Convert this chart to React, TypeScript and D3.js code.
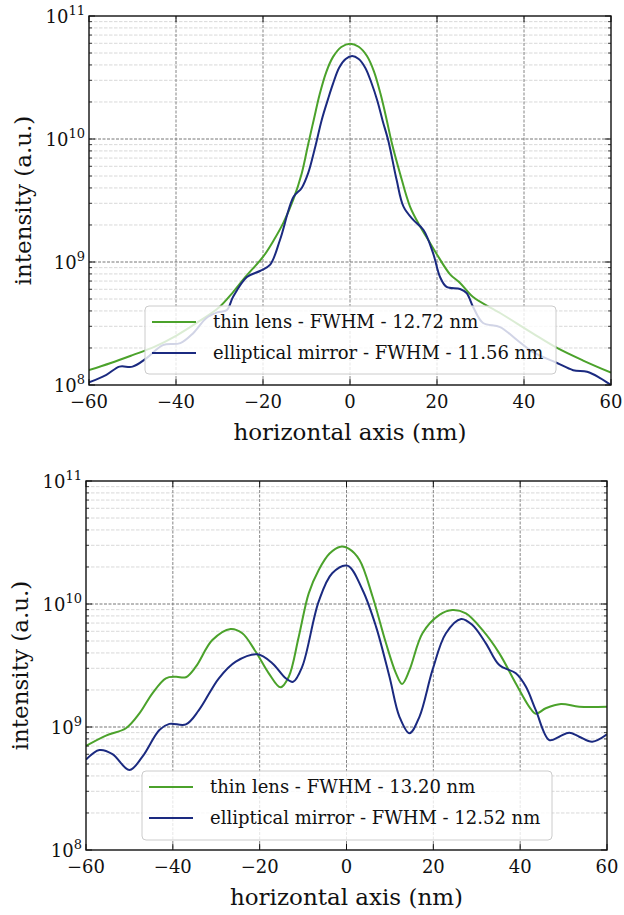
import React from "react";
import * as d3 from "d3";

const W = 624;
const H = 915;
const FONT = "DejaVu Serif";
const GREEN = "#4ba22b";
const BLUE = "#1b2a80";

const xTicks = [-60, -40, -20, 0, 20, 40, 60];
const decades = [8, 9, 10, 11];

// top panel
const topThinX = [-60, -55, -50, -45, -40, -35, -30, -27, -24, -20, -17.5, -15.3, -13, -11.1, -9.6, -8.3, -7, -5.5, -3.9, -2, 0, 2, 3.9, 5.5, 7, 8.4, 9.6, 11.5, 13.8, 16.1, 18, 20, 23, 25.3, 28.3, 34.5, 42, 47.6, 53.6, 60];
const topThinY = [1.32e8, 1.51e8, 1.75e8, 2.04e8, 2.51e8, 3.24e8, 4.31e8, 5.62e8, 7.59e8, 1.1e9, 1.51e9, 2.09e9, 3.24e9, 5.25e9, 9.12e9, 1.45e10, 2.29e10, 3.47e10, 4.65e10, 5.6e10, 5.96e10, 5.62e10, 4.73e10, 3.55e10, 2.34e10, 1.45e10, 9.33e9, 5.25e9, 2.82e9, 1.95e9, 1.51e9, 1.15e9, 7.94e8, 6.76e8, 5.19e8, 3.85e8, 2.63e8, 2.0e8, 1.58e8, 1.26e8];

const topMirrorX = [-60, -56, -53, -50, -46.7, -43, -39, -36, -33, -30.5, -28.3, -26.9, -23.7, -20.7, -18.4, -16.1, -13, -11.1, -9.6, -8, -6.5, -5, -3.9, -2.5, -1, 0.5, 2, 3.5, 4.9, 6.3, 7.5, 8.85, 10.7, 12.3, 14.6, 16.9, 19.1, 20.7, 22.2, 25.3, 26.8, 28.3, 30.6, 34.5, 38.4, 42.1, 47.6, 51.3, 54.5, 57.5, 60];
const topMirrorY = [1.05e8, 1.21e8, 1.41e8, 1.41e8, 1.66e8, 2.11e8, 2.19e8, 2.65e8, 3.51e8, 3.89e8, 4.07e8, 5.19e8, 7.55e8, 8.45e8, 9.46e8, 1.51e9, 3.37e9, 4.0e9, 5.3e9, 8.61e9, 1.43e10, 2.14e10, 2.82e10, 3.8e10, 4.47e10, 4.73e10, 4.47e10, 3.8e10, 2.88e10, 2.04e10, 1.41e10, 9.55e9, 4.68e9, 2.82e9, 2.19e9, 1.82e9, 1.18e9, 7.55e8, 6.27e8, 6.03e8, 5.6e8, 4.31e8, 3.19e8, 2.96e8, 2.32e8, 1.85e8, 1.51e8, 1.32e8, 1.28e8, 1.14e8, 1.0e8];

// bottom panel
const botThinX = [-60, -55.4, -50.8, -47.7, -44.7, -41.6, -39.3, -37, -34.7, -30.9, -26.7, -24, -20.9, -17.9, -15.2, -13.3, -11, -8.7, -6.4, -3.9, -1.4, 0.5, 3, 6, 9.1, 11.4, 12.8, 14.5, 17.5, 21.4, 24.4, 27.5, 31.3, 35.2, 39, 42.1, 43.6, 45.9, 49.4, 53.6, 60];
const botThinY = [7.01e8, 8.51e8, 9.77e8, 1.29e9, 1.88e9, 2.49e9, 2.56e9, 2.54e9, 3.09e9, 5.09e9, 6.27e9, 5.78e9, 4.09e9, 2.73e9, 2.1e9, 2.56e9, 5.42e9, 1.22e10, 1.89e10, 2.57e10, 2.92e10, 2.82e10, 2.28e10, 1.15e10, 4.79e9, 2.73e9, 2.24e9, 2.9e9, 5.78e9, 8.15e9, 8.93e9, 8.39e9, 6.15e9, 3.97e9, 2.26e9, 1.46e9, 1.28e9, 1.42e9, 1.54e9, 1.46e9, 1.46e9];

const botMirrorX = [-60, -56.9, -53.9, -50, -47, -43.1, -40.8, -37, -34, -29.4, -25.5, -20.5, -17.1, -14, -12.3, -10.2, -6.4, -3.3, 0.2, 3.7, 6.8, 9.9, 12.2, 14.5, 16.8, 19.8, 22.9, 26.4, 29, 32.1, 35.2, 39, 41.3, 43.6, 46.7, 49, 51.3, 53.6, 56.6, 60];
const botMirrorY = [5.43e8, 6.5e8, 6.03e8, 4.47e8, 5.74e8, 9.46e8, 1.06e9, 1.05e9, 1.37e9, 2.49e9, 3.4e9, 3.9e9, 3.3e9, 2.49e9, 2.33e9, 3.09e9, 1.05e10, 1.78e10, 2.05e10, 1.3e10, 6.55e9, 2.56e9, 1.21e9, 8.89e8, 1.21e9, 2.9e9, 5.78e9, 7.55e9, 6.75e9, 4.79e9, 3.19e9, 2.73e9, 2.13e9, 1.37e9, 7.83e8, 8.34e8, 8.99e8, 8.34e8, 7.59e8, 8.71e8];

const legendTop = ["thin lens - FWHM - 12.72 nm", "elliptical mirror - FWHM - 11.56 nm"];
const legendBottom = ["thin lens - FWHM - 13.20 nm", "elliptical mirror - FWHM - 12.52 nm"];

type Box = { left: number; top: number; right: number; bottom: number };
type Leg = { x: number; y: number; w: number; h: number };

function Panel({ id, box, xs, ys, labels, leg }: { id: string; box: Box; xs: number[][]; ys: number[][]; labels: string[]; leg: Leg }) {
  const x = d3.scaleLinear().domain([-60, 60]).range([box.left, box.right]);
  const y = d3.scaleLog().domain([1e8, 1e11]).range([box.bottom, box.top]);
  const minor: number[] = [];
  for (const d of [8, 9, 10]) for (let m = 2; m <= 9; m++) minor.push(m * Math.pow(10, d));
  const line = d3
    .line<[number, number]>()
    .x((d) => x(d[0]))
    .y((d) => y(d[1]))
    .curve(d3.curveCatmullRom.alpha(0.5));
  const colors = [GREEN, BLUE];
  const cx = (box.left + box.right) / 2;
  const cy = (box.top + box.bottom) / 2;

  return (
    <g>
      <defs>
        <clipPath id={id}>
          <rect x={box.left} y={box.top} width={box.right - box.left} height={box.bottom - box.top} />
        </clipPath>
      </defs>
      {/* grid */}
      {minor.map((v) => (
        <line key={"mg" + v} x1={box.left} x2={box.right} y1={y(v)} y2={y(v)} stroke="#cfcfcf" strokeWidth={0.8} strokeDasharray="3.5,1.5" />
      ))}
      {decades.slice(1, 3).map((d) => (
        <line key={"g" + d} x1={box.left} x2={box.right} y1={y(Math.pow(10, d))} y2={y(Math.pow(10, d))} stroke="#666" strokeWidth={0.9} strokeDasharray="3,1.5" />
      ))}
      {xTicks.slice(1, -1).map((t) => (
        <line key={"vg" + t} x1={x(t)} x2={x(t)} y1={box.top} y2={box.bottom} stroke="#777" strokeWidth={0.9} strokeDasharray="3,1.5" />
      ))}
      {/* curves */}
      <g clipPath={`url(#${id})`}>
        {xs.map((xx, i) => (
          <path
            key={"c" + i}
            d={line(xx.map((v, j) => [v, ys[i][j]] as [number, number])) || ""}
            fill="none"
            stroke={colors[i]}
            strokeWidth={2}
          />
        ))}
      </g>
      {/* legend */}
      <rect x={leg.x} y={leg.y} width={leg.w} height={leg.h} rx={4} fill="white" fillOpacity={0.8} stroke="#cccccc" strokeWidth={1} />
      {labels.map((l, i) => (
        <g key={"l" + i}>
          <line x1={leg.x + 7} x2={leg.x + 51} y1={leg.y + 16 + i * 31} y2={leg.y + 16 + i * 31} stroke={colors[i]} strokeWidth={2} />
          <text x={leg.x + 68} y={leg.y + 22 + i * 31} fontSize={18} fontFamily={FONT} fill="#111">
            {l}
          </text>
        </g>
      ))}
      {/* frame */}
      <rect x={box.left} y={box.top} width={box.right - box.left} height={box.bottom - box.top} fill="none" stroke="#111" strokeWidth={1.4} />
      {/* ticks */}
      {xTicks.map((t) => (
        <g key={"xt" + t}>
          <line x1={x(t)} x2={x(t)} y1={box.bottom} y2={box.bottom - 6} stroke="#111" strokeWidth={1} />
          <line x1={x(t)} x2={x(t)} y1={box.top} y2={box.top + 6} stroke="#111" strokeWidth={1} />
          <text x={x(t)} y={box.bottom + 23} textAnchor="middle" fontSize={18} fontFamily={FONT} fill="#111">
            {(t < 0 ? "\u2212" : "") + Math.abs(t)}
          </text>
        </g>
      ))}
      {minor.map((v) => (
        <g key={"mt" + v}>
          <line x1={box.left} x2={box.left + 3} y1={y(v)} y2={y(v)} stroke="#111" strokeWidth={0.8} />
          <line x1={box.right} x2={box.right - 3} y1={y(v)} y2={y(v)} stroke="#111" strokeWidth={0.8} />
        </g>
      ))}
      {decades.map((d) => (
        <g key={"yt" + d}>
          <line x1={box.left} x2={box.left + 6} y1={y(Math.pow(10, d))} y2={y(Math.pow(10, d))} stroke="#111" strokeWidth={1} />
          <line x1={box.right} x2={box.right - 6} y1={y(Math.pow(10, d))} y2={y(Math.pow(10, d))} stroke="#111" strokeWidth={1} />
          <text x={box.left - 4} y={y(Math.pow(10, d)) + 7} textAnchor="end" fontSize={18} fontFamily={FONT} fill="#111">
            <tspan>10</tspan>
            <tspan dy={-8} fontSize={13}>
              {d}
            </tspan>
          </text>
        </g>
      ))}
      {/* axis labels */}
      <text x={cx} y={box.bottom + 55} textAnchor="middle" fontSize={23} fontFamily={FONT} fill="#111">
        horizontal axis (nm)
      </text>
      <text transform={`translate(${box.left - 58},${cy}) rotate(-90)`} textAnchor="middle" fontSize={23} fontFamily={FONT} fill="#111">
        intensity (a.u.)
      </text>
    </g>
  );
}

export default function App() {
  return (
    <div style={{ position: "absolute", left: 0, top: 0 }}>
      <svg width={W} height={H} style={{ display: "block", background: "white" }}>
        <Panel
          id="clipTop"
          box={{ left: 89, top: 16, right: 611, bottom: 385 }}
          xs={[topThinX, topMirrorX]}
          ys={[topThinY, topMirrorY]}
          labels={legendTop}
          leg={{ x: 145, y: 306, w: 411, h: 68 }}
        />
        <Panel
          id="clipBottom"
          box={{ left: 86, top: 481, right: 607, bottom: 850 }}
          xs={[botThinX, botMirrorX]}
          ys={[botThinY, botMirrorY]}
          labels={legendBottom}
          leg={{ x: 142, y: 771, w: 410, h: 69 }}
        />
      </svg>
    </div>
  );
}
